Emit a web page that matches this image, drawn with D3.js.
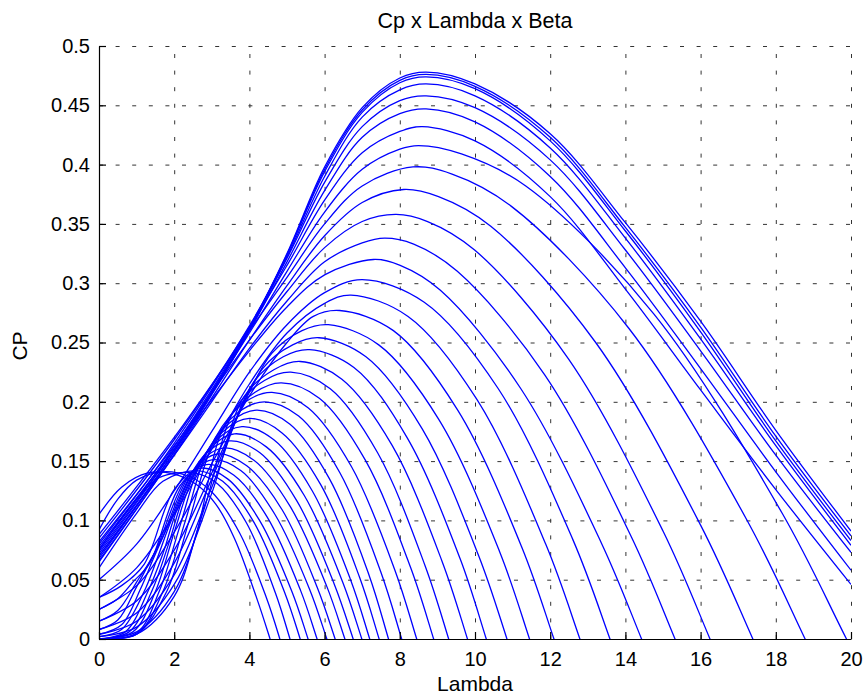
<!DOCTYPE html>
<html>
<head>
<meta charset="utf-8">
<script src="https://cdn.jsdelivr.net/npm/d3@7"></script>
<style>
  body { margin: 0; background: #fff; }
  svg text { font-family: "Liberation Sans", Arial, sans-serif; fill: #000; }
</style>
</head>
<body>
<div id="chart"></div>
<script>
// tick values and labels
var lambdaTicks = [0, 2, 4, 6, 8, 10, 12, 14, 16, 18, 20];
var cpTicks = [0, 0.05, 0.1, 0.15, 0.2, 0.25, 0.3, 0.35, 0.4, 0.45, 0.5];
var cpTickLabels = ["0", "0.05", "0.1", "0.15", "0.2", "0.25", "0.3", "0.35", "0.4", "0.45", "0.5"];

// one entry per Beta curve: [lambda, Cp] points estimated from the plot
var cpCurves = [
  [[0,.072],[2,.160],[4,.262],[5,.325],[6,.398],[7,.448],[8,.473],[8.7,.478],[10,.468],[12,.426],[14,.351],[16,.268],[18,.176],[20,.091]],
  [[0,.068],[2,.158],[4,.261],[5,.324],[6,.396],[7,.446],[8,.471],[8.7,.476],[10,.466],[12,.423],[14,.347],[16,.263],[18,.171],[20,.087]],
  [[0,.076],[2,.162],[4,.263],[5,.324],[6,.394],[7,.444],[8,.469],[8.7,.474],[10,.464],[12,.420],[14,.344],[16,.259],[18,.167],[20,.083]],
  [[0,.065],[2,.156],[4,.260],[5,.322],[6,.390],[7,.440],[8,.463],[8.7,.468],[10,.458],[12,.414],[14,.338],[16,.253],[18,.163],[20,.079]],
  [[0,.080],[2,.165],[4,.264],[5,.321],[6,.385],[7,.432],[8,.454],[8.7,.458],[10,.448],[12,.404],[14,.328],[16,.243],[18,.155],[20,.073]],
  [[0,.070],[2,.158],[4,.260],[5,.318],[6,.378],[7,.423],[8,.443],[8.7,.447],[10,.436],[12,.390],[14,.313],[16,.228],[18,.141],[20,.058]],
  [[0,.085],[2,.168],[4,.263],[5,.315],[6,.370],[7,.410],[8,.428],[8.6,.432],[10,.420],[12,.373],[14,.295],[16,.210],[18,.126],[20,.046]],
  [[0,.074],[2,.160],[4,.258],[5,.310],[6,.360],[7,.396],[8,.413],[8.5,.416],[9.64,.409],[11.35,.382],[14.76,.274],[18.17,.106],[19.88,0],[21.6,-.11]],
  [[0,.088],[2,.170],[4,.260],[5,.305],[6,.350],[7,.382],[8.35,.398],[9.39,.392],[10.96,.365],[14.09,.262],[17.22,.101],[18.78,0],[20.35,-.107]],
  [[0,.066],[2,.155],[4,.252],[5,.298],[6,.340],[7,.368],[8.1,.379],[9.03,.373],[10.42,.348],[13.21,.250],[16.0,.096],[17.39,0],[18.78,-.102]],
  [[0,.082],[2,.163],[4,.252],[5,.293],[6,.330],[7,.352],[7.9,.358],[8.74,.352],[9.99,.328],[12.49,.236],[15.0,.091],[16.25,0],[17.5,-.097]],
  [[0,.070],[2,.155],[4,.245],[5,.285],[6,.318],[7,.334],[7.6,.338],[8.37,.333],[9.53,.310],[11.85,.223],[14.16,.086],[15.32,0],[16.48,-.091]],
  [[0,.078],[2,.160],[4,.243],[5,.280],[6,.307],[7.3,.320],[8.01,.315],[9.08,.294],[11.22,.211],[13.36,.081],[14.43,0],[15.5,-.086]],
  [[0,.050],[1,.080],[2,.125],[3,.175],[4,.225],[5,.265],[6,.292],[7,.303],[8.65,.284],[10.62,.211],[12.6,.084],[13.59,0],[14.58,-.091]],
  [[0,.035],[1,.060],[2,.105],[3,.160],[4,.215],[5,.258],[6,.283],[6.7,.290],[8.22,.272],[10.05,.202],[11.88,.080],[12.79,0],[13.7,-.087]],
  [[0,.025],[1,.045],[2,.090],[3,.148],[4,.205],[5,.250],[5.7,.272],[6.4,.277],[7.83,.260],[9.54,.193],[11.25,.077],[12.1,0],[12.96,-.083]],
  [[0,.015],[1,.032],[2,.075],[3,.140],[4,.208],[4.6,.241],[5.4,.260],[6.1,.265],[7.44,.248],[9.04,.185],[10.65,.074],[11.45,0],[12.25,-.080]],
  [[0,.008],[1,.022],[2,.064],[3,.135],[4.35,.228],[5.15,.248],[5.85,.254],[7.1,.238],[8.6,.177],[10.1,.070],[10.85,0],[11.6,-.076]],
  [[0,.004],[1,.015],[2,.054],[3,.128],[4.1,.216],[4.9,.238],[5.6,.244],[6.78,.229],[8.19,.170],[9.6,.068],[10.3,0],[11.0,-.073]],
  [[0,.002],[1,.010],[2,.046],[3,.123],[3.85,.204],[4.65,.227],[5.35,.234],[6.46,.219],[7.8,.163],[9.13,.065],[9.8,0],[10.47,-.070]],
  [[0,0],[1,.006],[2,.040],[2.8,.110],[3.6,.193],[4.4,.218],[5.1,.225],[6.15,.211],[7.41,.157],[8.67,.062],[9.3,0],[9.93,-.068]],
  [[0,0],[1,.004],[2,.036],[2.6,.090],[3.35,.181],[4.15,.208],[4.85,.216],[5.86,.203],[7.08,.151],[8.29,.060],[8.9,0],[9.51,-.065]],
  [[0,0],[1,.004],[1.8,.040],[2.4,.100],[3.1,.170],[3.9,.200],[4.6,.208],[5.56,.195],[6.72,.145],[7.87,.058],[8.45,0],[9.03,-.062]],
  [[0,0],[1,.004],[1.7,.040],[2.3,.100],[2.9,.159],[3.7,.191],[4.4,.200],[5.31,.188],[6.41,.140],[7.5,.056],[8.05,0],[8.6,-.060]],
  [[0,0],[1,.005],[1.6,.040],[2.15,.095],[2.7,.148],[3.5,.183],[4.2,.193],[5.08,.181],[6.13,.135],[7.18,.054],[7.7,0],[8.23,-.058]],
  [[0,0],[0.9,.006],[1.5,.040],[2.0,.090],[2.5,.136],[3.3,.175],[4.0,.186],[4.86,.174],[5.9,.130],[6.93,.052],[7.45,0],[7.97,-.056]],
  [[0,0],[0.8,.006],[1.4,.040],[1.85,.080],[2.3,.124],[3.1,.167],[3.8,.179],[4.65,.168],[5.67,.125],[6.69,.050],[7.2,0],[7.71,-.054]],
  [[0,0],[0.7,.006],[1.3,.040],[1.7,.072],[2.1,.111],[2.9,.159],[3.6,.173],[4.45,.162],[5.46,.121],[6.48,.048],[6.99,0],[7.5,-.052]],
  [[0,.002],[0.6,.008],[1.2,.040],[1.55,.068],[1.95,.102],[2.75,.153],[3.45,.167],[4.28,.157],[5.27,.116],[6.26,.046],[6.76,0],[7.26,-.050]],
  [[0,.004],[0.6,.012],[1.1,.042],[1.45,.068],[1.8,.093],[2.6,.146],[3.3,.161],[4.11,.151],[5.08,.112],[6.05,.045],[6.54,0],[7.03,-.048]],
  [[0,.008],[0.5,.016],[1.0,.044],[1.3,.062],[1.65,.083],[2.45,.140],[3.15,.156],[3.93,.146],[4.87,.109],[5.81,.043],[6.28,0],[6.75,-.047]],
  [[0,.015],[0.5,.024],[1.0,.048],[1.5,.074],[2.3,.134],[3.0,.151],[3.77,.142],[4.68,.105],[5.6,.042],[6.06,0],[6.52,-.045]],
  [[0,.025],[0.5,.034],[0.9,.048],[1.35,.064],[2.15,.129],[2.85,.147],[3.59,.138],[4.47,.103],[5.36,.041],[5.8,0],[6.24,-.044]],
  [[0,.035],[0.6,.045],[1.2,.063],[2.0,.126],[2.7,.144],[3.42,.135],[4.27,.100],[5.13,.040],[5.56,0],[5.99,-.043]],
  [[0,.060],[1,.106],[1.7,.133],[2.6,.142],[3.29,.133],[4.11,.099],[4.94,.039],[5.35,0],[5.76,-.043]],
  [[0,.075],[1,.118],[1.6,.136],[2.5,.140],[3.15,.131],[3.92,.098],[4.69,.039],[5.08,0],[5.47,-.042]],
  [[0,.092],[0.5,.118],[1,.134],[1.7,.141],[2.4,.137],[3.0,.124],[3.73,.090],[4.45,.035],[4.81,0],[5.17,-.040]],
  [[0,.105],[0.6,.128],[1.3,.140],[2.0,.139],[2.6,.130],[3.1,.114],[3.6,.085],[4.21,.033],[4.55,0],[4.89,-.035]]
];

var W = 866, H = 698,
  LEFT = 99, RIGHT = 851, TOP = 46, BOTTOM = 639;

var svg = d3.select("#chart").append("svg")
  .attr("width", W)
  .attr("height", H);

var x = d3.scaleLinear().domain([0, 20]).range([LEFT, RIGHT]);
var y = d3.scaleLinear().domain([0, 0.5]).range([BOTTOM, TOP]);

// dotted grid
svg.append("g")
  .attr("class", "grid")
  .attr("transform", "translate(0," + BOTTOM + ")")
  .call(d3.axisBottom(x).tickValues(lambdaTicks).tickSize(-(BOTTOM - TOP)).tickFormat(""));
svg.append("g")
  .attr("class", "grid")
  .attr("transform", "translate(" + LEFT + ",0)")
  .call(d3.axisLeft(y).tickValues(cpTicks).tickSize(-(RIGHT - LEFT)).tickFormat(""));
svg.selectAll(".grid .domain").remove();

svg.append("clipPath").attr("id", "plotClip")
  .append("rect")
  .attr("x", LEFT).attr("y", TOP)
  .attr("width", RIGHT - LEFT).attr("height", BOTTOM - TOP + 1);

var line = d3.line()
  .x(function(d) { return x(d[0]); })
  .y(function(d) { return y(d[1]); })
  .curve(d3.curveCatmullRom.alpha(0.5));

svg.append("g")
  .attr("clip-path", "url(#plotClip)")
  .selectAll("path")
  .data(cpCurves)
  .enter().append("path")
  .attr("d", line)
  .style("fill", "none")
  .style("stroke", "#0000ff")
  .style("stroke-width", 1.3);

// axes (box off, ticks pointing in)
var xAxis = svg.append("g")
  .attr("transform", "translate(0," + BOTTOM + ")")
  .call(d3.axisBottom(x).tickValues(lambdaTicks).tickSize(-7).tickSizeOuter(0).tickPadding(13));
var yAxis = svg.append("g")
  .attr("transform", "translate(" + LEFT + ",0)")
  .call(d3.axisLeft(y).tickValues(cpTicks).tickSize(-7).tickSizeOuter(0).tickPadding(9)
    .tickFormat(function(d, i) { return cpTickLabels[i]; }));
svg.selectAll(".domain, .tick line").style("stroke", "#000").style("stroke-width", 1.2);
svg.selectAll(".grid line")
  .style("stroke", "#333")
  .style("stroke-width", 1)
  .style("stroke-dasharray", "4,12.6");
xAxis.selectAll("text").style("font-size", "20px");
yAxis.selectAll("text").style("font-size", "20px");

svg.append("text")
  .attr("x", (LEFT + RIGHT) / 2).attr("y", 28)
  .attr("text-anchor", "middle")
  .style("font-size", "21.5px")
  .text("Cp x Lambda x Beta");

svg.append("text")
  .attr("x", (LEFT + RIGHT) / 2).attr("y", 691)
  .attr("text-anchor", "middle")
  .style("font-size", "21px")
  .text("Lambda");

svg.append("text")
  .attr("transform", "translate(27,346) rotate(-90)")
  .attr("text-anchor", "middle")
  .style("font-size", "21px")
  .text("CP");
</script>
</body>
</html>
